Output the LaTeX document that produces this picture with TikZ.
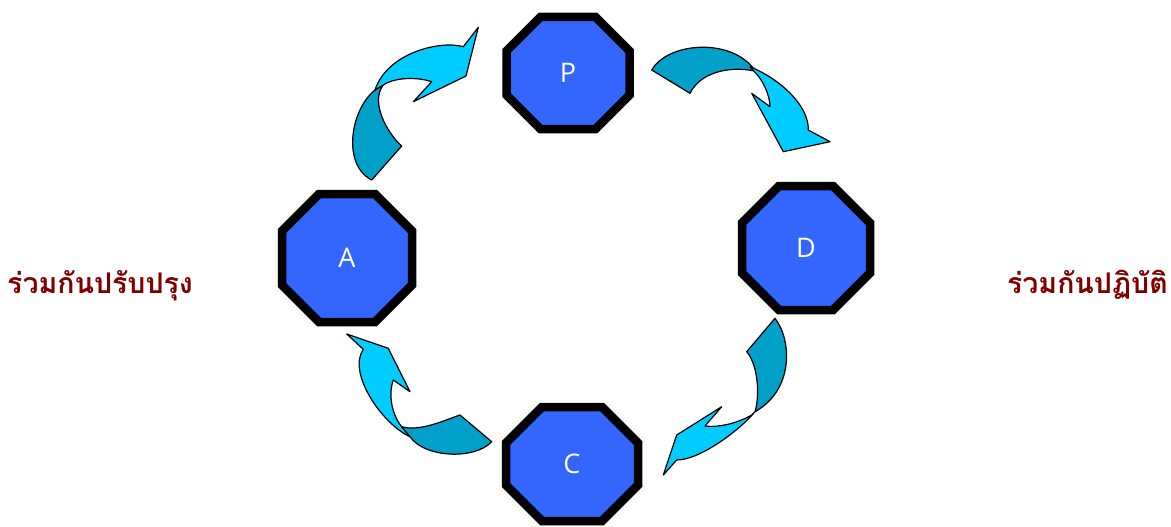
\documentclass[tikz,border=0pt]{standalone}
\usepackage{fontspec}
\setmainfont{Open Sans}
\newfontfamily\thaifont[Script=Thai]{Loma}
\definecolor{octblue}{HTML}{3366FF}
\definecolor{arrlight}{HTML}{00CCFF}
\definecolor{arrdark}{HTML}{00A0C8}
\definecolor{thaired}{HTML}{800000}
\pgfdeclarelayer{bg}
\pgfsetlayers{bg,main}
\tikzset{
  octnode/.style={rectangle, draw=none, inner sep=0pt, outer sep=0pt, text=white,
    font=\fontsize{27}{30}\selectfont},
  octline/.style={draw=black, line width=8.5pt, fill=octblue, line join=miter},
  lightpart/.style={draw=black, line width=1.2pt, fill=arrlight, line join=round},
  darkpart/.style={draw=black, line width=1.2pt, fill=arrdark, line join=round},
  thailabel/.style={text=thaired, inner sep=0pt, font=\thaifont\bfseries\fontsize{28.5}{32}\selectfont}
}
\newcommand\octof[2]{%
  \draw[octline] ([xshift=#2pt]#1.north west) -- ([xshift=-#2pt]#1.north east)
    -- ([yshift=-#2pt]#1.north east) -- ([yshift=#2pt]#1.south east)
    -- ([xshift=-#2pt]#1.south east) -- ([xshift=#2pt]#1.south west)
    -- ([yshift=#2pt]#1.south west) -- ([yshift=-#2pt]#1.north west) -- cycle;}
\begin{document}
\begin{tikzpicture}[x=1pt, y=-1pt]
\useasboundingbox (0,0) rectangle (1171,527);
% octagon nodes
\node[octnode, minimum width=123pt, minimum height=112pt] (P) at (568,73) {P};
\node[octnode, minimum width=130pt, minimum height=128pt] (A) at (347,258) {A};
\node[octnode, minimum width=128pt, minimum height=124pt] (D) at (806,248) {D};
\node[octnode, minimum width=132pt, minimum height=114pt] (C) at (572,464) {C};
\begin{pgfonlayer}{bg}
\octof{P}{34}
\octof{A}{37}
\octof{D}{37}
\octof{C}{36}
\end{pgfonlayer}
% arrow A -> P (top left)
\draw[darkpart] (375,90) .. controls (350,110) and (342,165) .. (371.7,180)
  -- (401.7,146) .. controls (387,133) and (370,102) .. (383.3,85) -- cycle;
\draw[lightpart] (375,90) .. controls (387,53) and (440,40) .. (463.3,46.7)
  -- (478.3,27.3) -- (466,76) -- (413.3,101.7) -- (431.7,81.7)
  .. controls (418,77) and (395,77) .. (383.3,85) -- cycle;
% arrow P -> D (top right)
\draw[darkpart] (651.7,70) .. controls (668,42) and (730,38) .. (753.3,68.3)
  -- (753.3,70.7) .. controls (728,66) and (700.2,72.7) .. (690,93.3) -- cycle;
\draw[lightpart] (750,66.7) .. controls (778,78) and (809,104.4) .. (808.3,130)
  -- (830,141.7) -- (783.3,151.7) -- (751.7,93.3) -- (770,106.7)
  .. controls (770,95) and (762,78) .. (753.3,70.7) -- cycle;
% arrow D -> C (bottom right)
\draw[darkpart] (775,318.3) .. controls (792,340) and (794,390) .. (755,411.7)
  .. controls (760,395) and (758,365) .. (746.7,351.7) -- cycle;
\draw[lightpart] (755,411.7) .. controls (740,430) and (700,460) .. (676.7,460)
  -- (663.3,475) -- (676.7,435) -- (721.7,406.7) -- (705,426)
  .. controls (720,428) and (740,422) .. (751.7,415) -- cycle;
% arrow C -> A (bottom left)
\draw[lightpart] (346.7,334) -- (388.3,348.3) -- (410,391.7) -- (393.3,380)
  .. controls (388,395) and (392,415) .. (401.7,426.7) -- (410,436.7)
  .. controls (382,424) and (347,372.7) .. (363.3,349.3) -- cycle;
\draw[darkpart] (460,415) -- (491.7,441.7) .. controls (475,460) and (424.4,458) .. (410,436.7)
  -- (401.7,426.7) .. controls (420,432) and (445,420) .. (460,415) -- cycle;
% side labels
\node[thailabel, anchor=base west] (improve) at (7,293) {ร่วมกันปรับปรุง};
\node[thailabel, anchor=base east] (practice) at (1168,293) {ร่วมกันปฏิบัติ};
\end{tikzpicture}
\end{document}
